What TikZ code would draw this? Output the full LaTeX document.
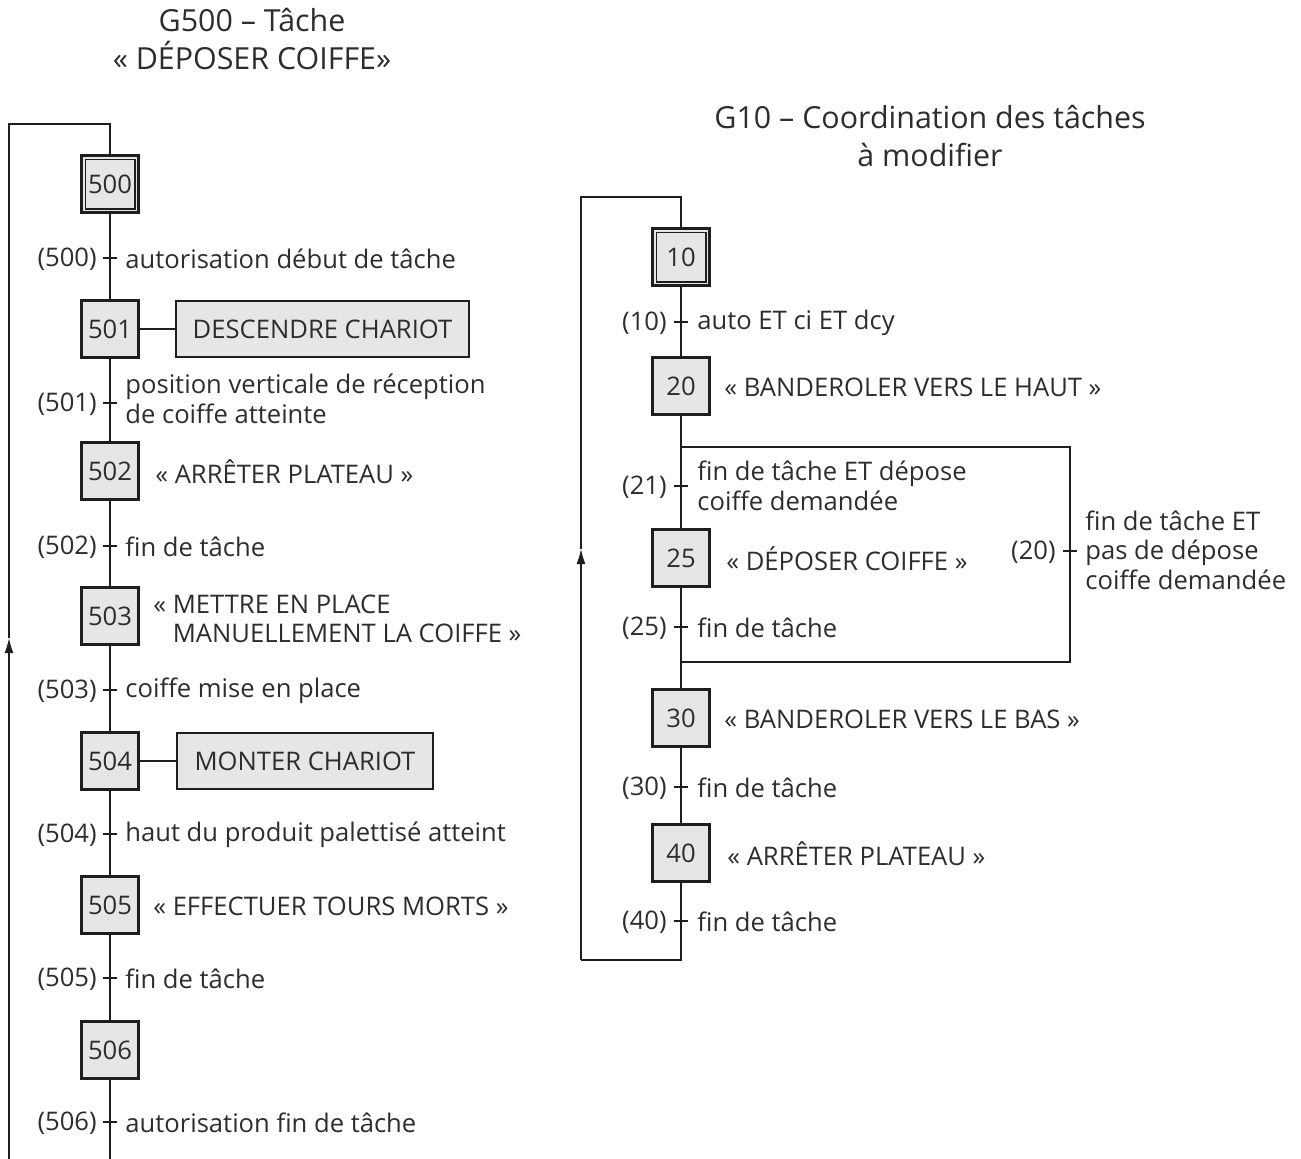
\documentclass[tikz,border=0pt]{standalone}
\usepackage{fontspec}
\setmainfont{Open Sans}
\usetikzlibrary{arrows.meta,calc}
\definecolor{boxfill}{RGB}{230,230,230}
\definecolor{txt}{RGB}{45,45,45}
\definecolor{ln}{RGB}{30,30,30}
\begin{document}
\begin{tikzpicture}[x=0.5pt,y=-0.5pt,
  every node/.style={font=\fontsize{12.8}{14.8}\selectfont, text=txt, inner sep=0pt},
  stepbox/.style={draw=ln, line width=1.4pt, fill=boxfill, minimum size=28.5pt, inner sep=0pt},
  actbox/.style={draw=ln, line width=0.7pt, fill=boxfill, minimum height=28pt, inner sep=0pt},
  wire/.style={draw=ln, line width=0.7pt},
  tick/.style={draw=ln, line width=1.1pt},
  lab/.style={anchor=east},
  cond/.style={anchor=west, align=left},
  act/.style={anchor=west, align=left},
  ttl/.style={align=center, font=\fontsize{15.2}{19}\selectfont},
  arr/.style={wire, -{Latex[length=7.5pt,width=4.5pt]}}
]
\useasboundingbox (0,0) rectangle (1301,1158);

% ---------- Titles ----------
\node[ttl] (title1) at (252,39) {G500 -- Tâche\\« DÉPOSER COIFFE»};
\node[ttl] (title2) at (930,136) {G10 -- Coordination des tâches\\à modifier};

% ---------- Left chart G500 ----------
\node[stepbox] (s500) at (110,184) {500};
\draw[ln, line width=0.6pt] ($(s500.south west)+(5,-5)$) rectangle ($(s500.north east)+(-5,5)$);
\node[stepbox] (s501) at (110,329) {501};
\node[stepbox] (s502) at (110,471) {502};
\node[stepbox] (s503) at (110,616) {503};
\node[stepbox] (s504) at (110,761) {504};
\node[stepbox] (s505) at (110,905) {505};
\node[stepbox] (s506) at (110,1050) {506};

\coordinate (t500) at (110,258);
\coordinate (t501) at (110,403);
\coordinate (t502) at (110,546);
\coordinate (t503) at (110,690);
\coordinate (t504) at (110,834);
\coordinate (t505) at (110,978);
\coordinate (t506) at (110,1122);

\draw[wire] (s500) -- (s501);
\draw[wire] (s501) -- (s502);
\draw[wire] (s502) -- (s503);
\draw[wire] (s503) -- (s504);
\draw[wire] (s504) -- (s505);
\draw[wire] (s505) -- (s506);
\coordinate (endL) at (110,1160);
\draw[wire] (s506) -- (endL);

\foreach \t in {t500,t501,t502,t503,t504,t505,t506}
  \draw[tick] ($(\t)+(-7,0)$) -- ($(\t)+(7,0)$);

\node[lab] (l500) at (97,259) {(500)};
\node[cond] (c500) at (125,259) {autorisation début de tâche};
\node[lab] (l501) at (97,404) {(501)};
\node[cond] (c501) at (125,399) {position verticale de réception\\de coiffe atteinte};
\node[lab] (l502) at (97,547) {(502)};
\node[cond] (c502) at (125,547) {fin de tâche};
\node[lab] (l503) at (97,691) {(503)};
\node[cond] (c503) at (125,691) {coiffe mise en place};
\node[lab] (l504) at (97,835) {(504)};
\node[cond] (c504) at (125,835) {haut du produit palettisé atteint};
\node[lab] (l505) at (97,979) {(505)};
\node[cond] (c505) at (125,979) {fin de tâche};
\node[lab] (l506) at (97,1123) {(506)};
\node[cond] (c506) at (125,1123) {autorisation fin de tâche};

\node[actbox, minimum width=146.5pt] (a501) at (322.5,329) {DESCENDRE CHARIOT};
\draw[wire] (s501) -- (a501);
\node[act] (a502) at (155,472) {« ARRÊTER PLATEAU »};
\node[act] (a503) at (153,619) {« METTRE EN PLACE\\\hphantom{« }MANUELLEMENT LA COIFFE »};
\node[actbox, minimum width=128pt] (a504) at (305,761) {MONTER CHARIOT};
\draw[wire] (s504) -- (a504);
\node[act] (a505) at (153,906) {« EFFECTUER TOURS MORTS »};

% loop left
\coordinate (lb) at (9,1160);
\coordinate (la) at (9,638);
\coordinate (lt) at (9,124);
\coordinate (lr) at (110,124);
\draw[arr] (lb) -- (la);
\draw[wire] (la) -- (lt) -- (lr) -- (s500);

% ---------- Right chart G10 ----------
\node[stepbox] (s10) at (681,257) {10};
\draw[ln, line width=0.6pt] ($(s10.south west)+(5,-5)$) rectangle ($(s10.north east)+(-5,5)$);
\node[stepbox] (s20) at (681,386) {20};
\node[stepbox] (s25) at (681,558) {25};
\node[stepbox] (s30) at (681,718) {30};
\node[stepbox] (s40) at (681,853) {40};

\coordinate (t10) at (681,322);
\coordinate (t21) at (681,486);
\coordinate (t25) at (681,627);
\coordinate (t30) at (681,787);
\coordinate (t40) at (681,921);
\coordinate (t20) at (1070,551);

\coordinate (dv) at (681,447);
\coordinate (dvr) at (1070,447);
\coordinate (cvr) at (1070,662);
\coordinate (cv) at (681,662);

\draw[wire] (s10) -- (s20);
\draw[wire] (s20) -- (dv) -- (s25);
\draw[wire] (s25) -- (cv) -- (s30);
\draw[wire] (s30) -- (s40);
\draw[wire] (dv) -- (dvr) -- (cvr) -- (cv);

\foreach \t in {t10,t21,t25,t30,t40,t20}
  \draw[tick] ($(\t)+(-7,0)$) -- ($(\t)+(7,0)$);

\node[lab] (l10) at (667,323) {(10)};
\node[cond] (c10) at (697,323) {auto ET ci ET dcy};
\node[lab] (l21) at (667,487) {(21)};
\node[cond] (c21) at (697,486) {fin de tâche ET dépose\\coiffe demandée};
\node[lab] (l25) at (667,628) {(25)};
\node[cond] (c25) at (697,628) {fin de tâche};
\node[lab] (l30) at (667,788) {(30)};
\node[cond] (c30) at (697,788) {fin de tâche};
\node[lab] (l40) at (667,922) {(40)};
\node[cond] (c40) at (697,922) {fin de tâche};
\node[lab] (l20) at (1056,552) {(20)};
\node[cond] (c20) at (1085,550) {fin de tâche ET\\pas de dépose\\coiffe demandée};

\node[act] (a20) at (724,387) {« BANDEROLER VERS LE HAUT »};
\node[act] (a25) at (726,559) {« DÉPOSER COIFFE »};
\node[act] (a30) at (724,719) {« BANDEROLER VERS LE BAS »};
\node[act] (a40) at (727,854) {« ARRÊTER PLATEAU »};

% loop right
\coordinate (rb0) at (681,960);
\coordinate (rb) at (581,960);
\coordinate (ra) at (581,549);
\coordinate (rt) at (581,197);
\coordinate (rr) at (681,197);
\draw[wire] (s40) -- (rb0) -- (rb);
\draw[arr] (rb) -- (ra);
\draw[wire] (ra) -- (rt) -- (rr) -- (s10);
\end{tikzpicture}
\end{document}
